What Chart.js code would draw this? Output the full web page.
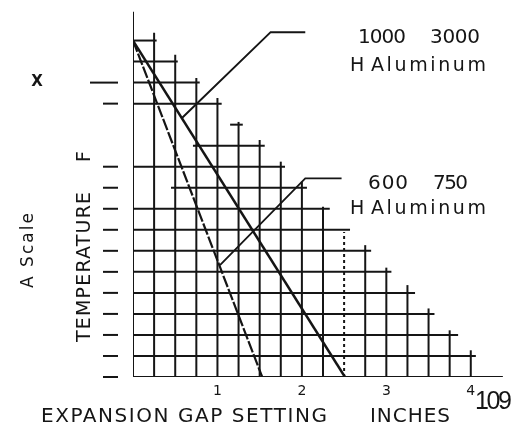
<!DOCTYPE html>
<html>
<head>
<meta charset="utf-8">
<script src="https://cdn.jsdelivr.net/npm/chart.js@4/dist/chart.umd.min.js"></script>
<style>
  html, body { margin: 0; padding: 0; background: #fff; }
  #wrap { width: 518px; height: 425px; position: relative; }
</style>
</head>
<body>
<div id="wrap"><canvas id="gapChart"></canvas></div>
<script>
const INK = '#151515';

// x ticks, inches
const xTicks = [1, 2, 3, 4];

// horizontal grid lines, row 0 (bottom) .. row 16 (top): where each starts / ends, inches
const rowStarts = [0, 0, 0, 0, 0, 0, 0, 0, 0, 0.45, 0, 0.71, 1.15, 0, 0, 0, 0];
const rowEnds = [4.38, 4.06, 3.85, 3.57, 3.34, 3.06, 2.82, 2.57, 2.33, 2.06, 1.80, 1.56, 1.30, 1.05, 0.79, 0.53, 0.28];

// vertical grid lines every quarter inch: x position and top (in rows)
const colX = [0, 0.25, 0.5, 0.75, 1, 1.25, 1.5, 1.75, 2, 2.25, 2.5, 2.75, 3, 3.25, 3.5, 3.75, 4];
const colTops = [17.37, 16.37, 15.32, 14.22, 13.27, 12.13, 11.27, 10.24, 9.29, 8.1, 6.9, 6.27, 5.2, 4.37, 3.26, 2.22, 1.27];

// rows that carry a tick dash on the temperature scale
const yTickRows = [14, 13, 10, 9, 8, 7, 6, 5, 4, 3, 2, 1, 0];

// the two alloy lines: temperature row vs gap (inches)
const lineRows = [16, 0];
const gap1000 = [0, 2.51];
const gap600 = [0, 1.53];

// leader lines to the labels
const leader1000X = [0.58, 1.63, 2.04];
const leader1000Y = [12.32, 16.4, 16.4];
const leader600X = [1.03, 2.04, 2.47];
const leader600Y = [5.32, 9.45, 9.45];

function seg(xs, ys, width, dash) {
    return {
        data: xs.map((x, i) => ({ x: x, y: ys[i] })),
        showLine: true,
        borderColor: INK,
        borderWidth: width,
        borderDash: dash || [],
        pointRadius: 0,
        fill: false,
        tension: 0
    };
}

const datasets = [];
rowEnds.forEach((end, r) => {
    datasets.push(seg([rowStarts[r], end], [r, r], 2));
});
colX.forEach((x, i) => {
    datasets.push(seg([x, x], [0, colTops[i]], 2, i === 10 ? [3, 3] : null));
});
datasets.push(seg(gap1000, lineRows, 2.5));
datasets.push(seg(gap600, lineRows, 2.2, [12, 2]));
datasets.push(seg(leader1000X, leader1000Y, 2));
datasets.push(seg(leader600X, leader600Y, 1.8));

// draw text fitted to a width
function fitText(ctx, text, x, y, width) {
    ctx.save();
    ctx.letterSpacing = '0px';
    ctx.textAlign = 'left';
    const w = ctx.measureText(text).width;
    if (text.length > 1) {
        ctx.letterSpacing = ((width - w) / (text.length - 1)).toFixed(2) + 'px';
    }
    ctx.fillText(text, x, y);
    ctx.restore();
}

function rotatedText(ctx, text, baseX, startY, width) {
    ctx.save();
    ctx.translate(baseX, startY);
    ctx.rotate(-Math.PI / 2);
    fitText(ctx, text, 0, 0, width);
    ctx.restore();
}

const paperText = {
    id: 'paperText',
    afterDatasetsDraw(chart) {
        const { ctx, chartArea, scales } = chart;
        const xs = scales.x, ys = scales.y;
        ctx.save();
        ctx.fillStyle = INK;
        ctx.strokeStyle = INK;
        ctx.textBaseline = 'alphabetic';

        // tick dashes left of the axis
        ctx.lineWidth = 2;
        yTickRows.forEach(r => {
            const py = ys.getPixelForValue(r);
            ctx.beginPath();
            ctx.moveTo(chartArea.left - (r === 14 ? 43 : 30), py);
            ctx.lineTo(chartArea.left - 15, py);
            ctx.stroke();
        });

        // x tick labels
        ctx.font = '14px "DejaVu Sans"';
        ctx.textAlign = 'center';
        xTicks.forEach(v => {
            ctx.fillText(String(v), xs.getPixelForValue(v), chartArea.bottom + 18);
        });

        ctx.font = 'bold 15px "DejaVu Sans"';
        ctx.fillText('X', 37, 86);

        ctx.font = '19px "DejaVu Sans"';
        rotatedText(ctx, 'TEMPERATURE', 90, 342, 150);
        rotatedText(ctx, 'F', 90, 162, 9);
        ctx.font = '17px "DejaVu Sans"';
        rotatedText(ctx, 'A Scale', 33, 288, 75);

        ctx.font = '20px "DejaVu Sans"';
        fitText(ctx, 'EXPANSION GAP SETTING', 41, 422, 286);
        fitText(ctx, 'INCHES', 370, 422, 80);

        ctx.font = '25px "Liberation Sans"';
        fitText(ctx, '109', 475, 409, 37);

        // alloy labels
        ctx.font = '20px "DejaVu Sans"';
        fitText(ctx, '1000', 358, 43, 48);
        fitText(ctx, '3000', 430, 43, 50);
        fitText(ctx, '600', 368, 189, 40);
        fitText(ctx, '750', 433, 189, 35);
        ctx.font = '19px "DejaVu Sans"';
        fitText(ctx, 'H', 350, 71, 10);
        fitText(ctx, 'Aluminum', 371, 71, 115);
        fitText(ctx, 'H', 350, 214, 10);
        fitText(ctx, 'Aluminum', 371, 214, 115);
        ctx.restore();
    }
};

new Chart(document.getElementById('gapChart'), {
    type: 'scatter',
    data: { datasets: datasets },
    options: {
        responsive: true,
        maintainAspectRatio: false,
        animation: false,
        layout: { padding: { left: 133, right: 5, top: 9, bottom: 48 } },
        plugins: { legend: { display: false }, tooltip: { enabled: false } },
        scales: {
            x: { type: 'linear', min: 0, max: 4.5, display: false },
            y: { type: 'linear', min: 0, max: 17.5, display: false }
        },
        elements: { line: { borderCapStyle: 'butt' } }
    },
    plugins: [paperText]
});
</script>
</body>
</html>
